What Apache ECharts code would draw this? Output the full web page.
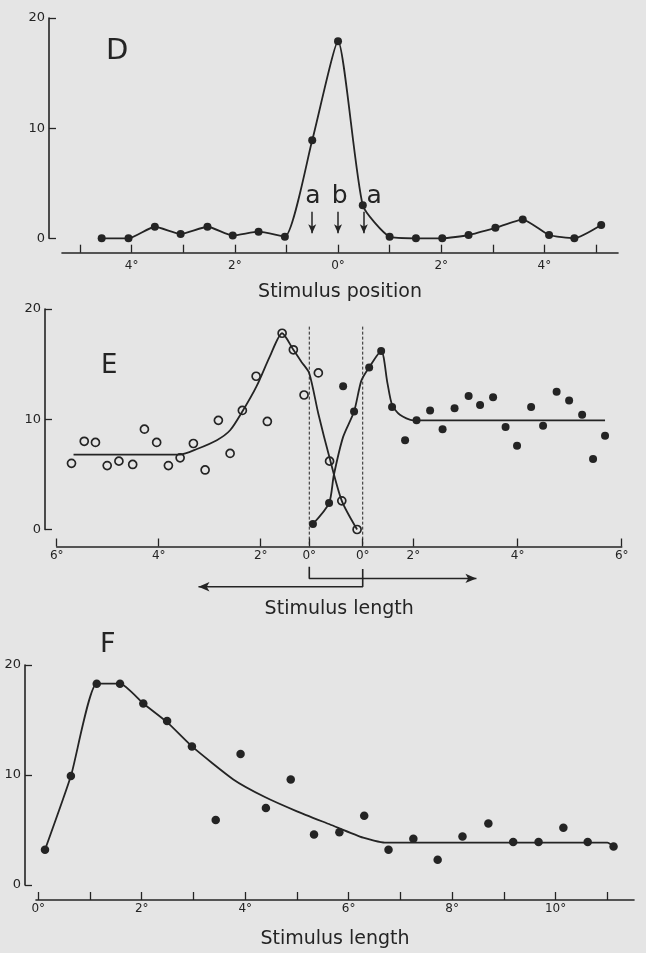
<!DOCTYPE html>
<html>
<head>
<meta charset="utf-8">
<script src="https://cdn.jsdelivr.net/npm/echarts@6/dist/echarts.min.js"></script>
<style>
html,body{margin:0;padding:0;background:#e5e5e5;}
#chart{width:646px;height:953px;}
</style>
</head>
<body>
<div id="chart"></div>
<script>
// ---------- Panel D : stimulus position ----------
const dPos = [-4.58,-4.06,-3.55,-3.05,-2.53,-2.04,-1.54,-1.03,-0.5,0,0.48,1.0,1.51,2.02,2.53,3.05,3.58,4.09,4.58,5.1];
const dRate = [0,0,1.05,0.4,1.05,0.25,0.6,0.15,8.9,17.9,3.0,0.15,0,0,0.3,0.95,1.7,0.3,0,1.2];
const dTicks = [-5,-4,-3,-2,-1,0,1,2,3,4,5];
const dTickLabels = [-4,-2,0,2,4];
const dArrowX = [-0.5,0,0.5];
const dNoteX = [-0.485,0.03,0.70];
const dNoteText = ['a','b','a'];

// ---------- Panel E : stimulus length (two directions) ----------
// open circles: length measured leftwards from the right dashed line
const eOpenLen = [5.71,5.46,5.24,5.01,4.78,4.51,4.28,4.04,3.81,3.58,3.32,3.09,2.83,2.60,2.36,2.09,1.87,1.58,1.36,1.15,0.87,0.65,0.41,0.11];
const eOpenRate = [6.0,8.0,7.9,5.8,6.2,5.9,9.1,7.9,5.8,6.5,7.8,5.4,9.9,6.9,10.8,13.9,9.8,17.8,16.3,12.2,14.2,6.2,2.6,0];
const eOpenFitLen = [5.67,3.58,3.25,2.86,2.6,2.36,2.08,1.82,1.58,1.36,1.2,1.05,0.87,0.65,0.41,0.11];
const eOpenFitRate = [6.8,6.8,7.3,8.1,9.0,10.7,13.0,15.7,17.8,16.3,15.2,14.2,10.5,6.5,2.6,0];
// filled dots: length measured rightwards from the left dashed line
const eFillLen = [0.07,0.38,0.65,0.86,1.15,1.38,1.59,1.84,2.06,2.32,2.56,2.79,3.06,3.28,3.53,3.77,3.99,4.26,4.49,4.75,4.99,5.24,5.45,5.68];
const eFillRate = [0.5,2.4,13.0,10.7,14.7,16.2,11.1,8.1,9.9,10.8,9.1,11.0,12.1,11.3,12.0,9.3,7.6,11.1,9.4,12.5,11.7,10.4,6.4,8.5];
const eFillFitLen = [0.07,0.38,0.47,0.65,0.86,1.0,1.15,1.38,1.5,1.59,1.74,2.0,5.68];
const eFillFitRate = [0.5,2.4,4.9,8.4,10.7,13.5,14.7,16.2,13.3,11.3,10.4,9.9,9.9];
const eTickLabels = [0,2,4,6];
// direction guides (dashed origin lines and arrows), in each axis' own units
const eDashY = [18.4,-1.56];
const eFillArrowPath = [[0,-3.37],[0,-4.44],[3.21,-4.44]];
const eOpenArrowPath = [[0,-3.58],[0,-5.19],[3.22,-5.19]];

// ---------- Panel F : stimulus length ----------
const fLen = [0.13,0.63,1.13,1.58,2.03,2.49,2.97,3.43,3.91,4.40,4.88,5.33,5.82,6.30,6.77,7.25,7.72,8.20,8.70,9.18,9.67,10.15,10.62,11.12];
const fRate = [3.2,9.9,18.3,18.3,16.5,14.9,12.6,5.9,11.9,7.0,9.6,4.6,4.8,6.3,3.2,4.2,2.3,4.4,5.6,3.9,3.9,5.2,3.9,3.5];
const fFitLen = [0.13,0.63,1.13,1.58,2.03,2.49,2.97,3.77,4.38,5.0,5.64,6.28,6.7,11.0,11.12];
const fFitRate = [3.2,9.9,18.3,18.3,16.5,14.8,12.6,9.6,8.0,6.7,5.5,4.3,3.85,3.85,3.5];
const fTicks = [0,1,2,3,4,5,6,7,8,9,10,11];
const fTickLabels = [0,2,4,6,8,10];

// ---------- styling ----------
const INK = '#242424';
const BG = '#e5e5e5';
const FONT = 'DejaVu Sans';
const zip = (a,b) => a.map((v,i)=>[v,b[i]]);

function xAx(grid, min, max, ticks, labels, fmt, offset, margin, name, nameGap, extra) {
  return Object.assign({
    type:'value', gridIndex:grid, min:min, max:max, position:'bottom', offset:offset,
    axisLine:{show:true, onZero:false, lineStyle:{color:INK,width:1.6}},
    axisTick:{show:true, inside:true, length:8, customValues:ticks, lineStyle:{color:INK,width:1.3}},
    axisLabel:{show:true, customValues:labels, formatter:fmt, margin:margin, color:INK, fontFamily:FONT, fontSize:12},
    splitLine:{show:false},
    name:name, nameLocation:'middle', nameGap:nameGap,
    nameTextStyle:{color:INK, fontFamily:FONT, fontSize:19, verticalAlign:'top'}
  }, extra||{});
}
function yAx(grid, offset) {
  return {
    type:'value', gridIndex:grid, min:0, max:20, interval:10, position:'left', offset:offset,
    axisLine:{show:true, onZero:false, lineStyle:{color:INK,width:1.6}},
    axisTick:{show:true, inside:true, length:7, lineStyle:{color:INK,width:1.3}},
    axisLabel:{show:true, margin:4, color:INK, fontFamily:FONT, fontSize:13},
    splitLine:{show:false}
  };
}
const deg = v => Math.abs(v) + '°';

function guide(xi, data, dashed, arrowRot) {
  const last = data.length - 1;
  return {
    type:'line', xAxisIndex:xi, yAxisIndex:1, data:data, clip:false, silent:true, z:1,
    lineStyle:{color:INK, width: dashed ? 1 : 1.6, type: dashed ? [3,2] : 'solid'},
    symbol: (v, p) => (arrowRot !== undefined && p.dataIndex === last) ? 'arrow' : 'none',
    symbolSize:[7,11], symbolRotate:arrowRot || 0,
    itemStyle:{color:INK, opacity:1}, showSymbol:true
  };
}

const chart = echarts.init(document.getElementById('chart'), null, {renderer:'canvas'});
const option = {
  backgroundColor: BG,
  animation: false,
  grid: [
    {left:62, top:18, width:556, height:220.3, outerBoundsMode:'none'},
    {left:56.7, top:309, width:565, height:220.5, outerBoundsMode:'none'},
    {left:36, top:665, width:598, height:220, outerBoundsMode:'none'}
  ],
  xAxis: [
    xAx(0, -5.349, 5.426, dTicks, dTickLabels, deg, 14.4, 7, 'Stimulus position', 30),
    xAx(1, -4.851, 6.0, eTickLabels, eTickLabels, deg, 17, 3, 'Stimulus length', 53),
    xAx(1, -5.078, 6.0, eTickLabels, eTickLabels, deg, 17, 3, '', 0, {inverse:true, axisLine:{show:false, onZero:false}}),
    xAx(2, -0.044, 11.515, fTicks, fTickLabels, deg, 15, 3, 'Stimulus length', 30)
  ],
  yAxis: [ yAx(0, 13), yAx(1, 11.7), yAx(2, 11) ],
  graphic: [
    {type:'text', left:106, top:37, style:{text:'D', font:'29px "DejaVu Sans"', fill:INK}},
    {type:'text', left:101, top:353, style:{text:'E', font:'26px "DejaVu Sans"', fill:INK}},
    {type:'text', left:100, top:631, style:{text:'F', font:'27px "DejaVu Sans"', fill:INK}}
  ],
  series: [
    // D
    {type:'line', xAxisIndex:0, yAxisIndex:0, data:zip(dPos,dRate), smooth:0.18, clip:false,
     symbol:'circle', symbolSize:8, itemStyle:{color:INK, opacity:1}, lineStyle:{color:INK,width:1.8},
     markLine:{silent:true, symbolSize:[6,9], label:{show:false}, lineStyle:{color:INK,width:1.5,type:'solid'},
       data: dArrowX.map(x => [{coord:[x,2.42], symbol:'none'},{coord:[x,0.46], symbol:'arrow'}])}},
    {type:'scatter', xAxisIndex:0, yAxisIndex:0, symbolSize:1, itemStyle:{color:BG, opacity:1},
     data: dNoteX.map((x,i)=>[x,3.75,dNoteText[i]]),
     label:{show:true, position:'inside', formatter:p=>p.data[2], color:INK, opacity:1, fontFamily:FONT, fontSize:25}},
    // E guides
    guide(1, eDashY.map(y=>[0,y]), true),
    guide(2, eDashY.map(y=>[0,y]), true),
    guide(1, eFillArrowPath, false, -90),
    guide(2, eOpenArrowPath, false, 90),
    // E filled
    {type:'line', xAxisIndex:1, yAxisIndex:1, data:zip(eFillFitLen,eFillFitRate), smooth:0.25, clip:false,
     symbol:'none', lineStyle:{color:INK,width:1.8}},
    {type:'scatter', xAxisIndex:1, yAxisIndex:1, data:zip(eFillLen,eFillRate), clip:false,
     symbol:'circle', symbolSize:8, itemStyle:{color:INK, opacity:1}},
    // E open
    {type:'line', xAxisIndex:2, yAxisIndex:1, data:zip(eOpenFitLen,eOpenFitRate), smooth:0.25, clip:false,
     symbol:'none', lineStyle:{color:INK,width:1.8}},
    {type:'scatter', xAxisIndex:2, yAxisIndex:1, data:zip(eOpenLen,eOpenRate), clip:false,
     symbol:'circle', symbolSize:8, itemStyle:{color:BG, borderColor:INK, borderWidth:1.7, opacity:1}},
    // F
    {type:'line', xAxisIndex:3, yAxisIndex:2, data:zip(fFitLen,fFitRate), smooth:0.18, clip:false,
     symbol:'none', lineStyle:{color:INK,width:1.8}},
    {type:'scatter', xAxisIndex:3, yAxisIndex:2, data:zip(fLen,fRate), clip:false,
     symbol:'circle', symbolSize:8.5, itemStyle:{color:INK, opacity:1}}
  ]
};
chart.setOption(option);
</script>
</body>
</html>
